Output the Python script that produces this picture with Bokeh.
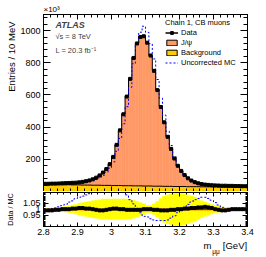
import numpy as np
from bokeh.plotting import figure
from bokeh.layouts import column
from bokeh.models import (ColumnDataSource, LinearAxis, FixedTicker, Range1d, Label, Title,
                          Legend, LegendItem, CustomJSTickFormatter)
from bokeh.transform import stack
from bokeh.embed import file_html
from bokeh.resources import INLINE

# ---------------- data ----------------
bin_low = [2.80, 2.81, 2.82, 2.83, 2.84, 2.85, 2.86, 2.87, 2.88, 2.89,
           2.90, 2.91, 2.92, 2.93, 2.94, 2.95, 2.96, 2.97, 2.98, 2.99,
           3.00, 3.01, 3.02, 3.03, 3.04, 3.05, 3.06, 3.07, 3.08, 3.09,
           3.10, 3.11, 3.12, 3.13, 3.14, 3.15, 3.16, 3.17, 3.18, 3.19,
           3.20, 3.21, 3.22, 3.23, 3.24, 3.25, 3.26, 3.27, 3.28, 3.29,
           3.30, 3.31, 3.32, 3.33, 3.34, 3.35, 3.36, 3.37, 3.38, 3.39]
bin_width = 0.01

# entries (x10^3) per 10 MeV
data = [48, 48, 49, 49, 50, 51, 52, 53, 54, 55,
        57, 60, 64, 69, 76, 86, 100, 118, 140, 170,
        215, 290, 380, 480, 590, 700, 830, 920, 960, 965,
        925, 845, 750, 630, 525, 430, 340, 265, 205, 160,
        128, 102, 82, 68, 58, 51, 46, 43, 41, 39,
        38, 37, 36, 36, 35, 35, 34, 34, 33, 33]
background = [44, 44, 43, 43, 43, 42, 42, 42, 41, 41,
              41, 40, 40, 40, 39, 39, 39, 38, 38, 38,
              37, 37, 37, 36, 36, 36, 35, 35, 35, 34,
              34, 34, 33, 33, 33, 32, 32, 32, 31, 31,
              31, 31, 30, 30, 30, 30, 29, 29, 29, 29,
              29, 28, 28, 28, 28, 28, 28, 27, 27, 27]
jpsi = [5, 5, 6, 6, 7, 9, 10, 11, 13, 14,
        15, 19, 24, 29, 37, 47, 62, 81, 103, 132,
        177, 252, 343, 444, 557, 668, 799, 890, 930, 931,
        891, 811, 721, 600, 497, 402, 311, 234, 175, 129,
        97, 71, 52, 37, 27, 20, 16, 13, 11, 10,
        9, 9, 8, 8, 7, 7, 6, 7, 6, 6]
uncorrected_mc = [48, 48, 49, 49, 49, 50, 50, 50, 50, 50,
                  52, 54, 57, 61, 67, 75, 86, 101, 120, 145,
                  184, 250, 330, 421, 527, 648, 794, 920, 990, 1027,
                  989, 918, 824, 696, 580, 475, 374, 286, 217, 165,
                  129, 100, 79, 64, 54, 47, 42, 39, 38, 36,
                  36, 36, 35, 36, 35, 35, 34, 34, 33, 33]
# ratio panel
ratio_data_mc = [0.99, 0.99, 0.99, 0.995, 0.995, 1.0, 1.0, 1.0, 1.005, 1.005,
                 1.01, 1.01, 1.005, 1.005, 1.0, 0.995, 0.99, 0.99, 0.995, 1.0,
                 1.005, 1.005, 1.0, 1.0, 0.995, 0.995, 0.995, 0.995, 0.995, 1.0,
                 1.0, 1.0, 0.995, 0.995, 0.99, 0.99, 0.99, 0.995, 0.995, 1.0,
                 1.0, 1.005, 1.005, 1.01, 1.01, 1.015, 1.015, 1.02, 1.015, 1.01,
                 1.0, 0.995, 0.99, 0.99, 0.995, 1.0, 1.0, 1.0, 1.0, 1.0]
ratio_uncorrected = [1.0, 1.0, 1.005, 1.01, 1.02, 1.03, 1.04, 1.06, 1.07, 1.09,
                     1.10, 1.11, 1.12, 1.13, 1.14, 1.15, 1.16, 1.17, 1.17, 1.17,
                     1.17, 1.16, 1.15, 1.14, 1.12, 1.08, 1.045, 1.0, 0.97, 0.94,
                     0.935, 0.92, 0.91, 0.905, 0.905, 0.905, 0.91, 0.925, 0.945, 0.97,
                     0.99, 1.015, 1.04, 1.06, 1.08, 1.09, 1.10, 1.10, 1.09, 1.075,
                     1.055, 1.035, 1.015, 1.0, 1.0, 0.995, 0.995, 1.0, 1.0, 1.0]
syst_band = [0.005, 0.006, 0.008, 0.01, 0.013, 0.017, 0.022, 0.028, 0.034, 0.04,
             0.048, 0.055, 0.06, 0.065, 0.07, 0.075, 0.08, 0.085, 0.085, 0.085,
             0.085, 0.085, 0.085, 0.085, 0.085, 0.08, 0.075, 0.065, 0.055, 0.045,
             0.03, 0.03, 0.045, 0.065, 0.09, 0.11, 0.12, 0.13, 0.14, 0.14,
             0.14, 0.13, 0.12, 0.11, 0.1, 0.085, 0.07, 0.06, 0.05, 0.04,
             0.03, 0.025, 0.02, 0.015, 0.012, 0.01, 0.01, 0.008, 0.008, 0.007]
ref_level = [1.0]

x_ticks = [2.8, 2.9, 3.0, 3.1, 3.2, 3.3, 3.4]
y_ticks = [200, 400, 600, 800, 1000]
r_ticks = [0.95, 1.0, 1.05]
# x-axis title pieces "m", subscript "μμ", "[GeV]" and where they sit along the axis
xtitle_main = ["m", "[GeV]"]
xtitle_main_pos = [3.2824, 3.3632]
xtitle_sub = ["μμ"]
xtitle_sub_pos = [3.3074]

# ---------------- styles ----------------
SALMON = "#FF9966"
GOLD = "#FFCC00"
YELLOW = "#FFFF00"
FONT = "Liberation Sans"

lo = np.array(bin_low)
hi = np.round(lo + bin_width, 3)
ctr = lo + bin_width / 2
edges = list(lo) + [hi[-1]]

src = ColumnDataSource(dict(left=lo, right=hi, center=ctr, data=data, bkg=background,
                            jpsi=jpsi, ratio=ratio_data_mc,
                            band_lo=1 - np.array(syst_band), band_hi=1 + np.array(syst_band)))
step_src = ColumnDataSource(dict(x=edges, bkg=background + [background[-1]],
                                 jpsi=jpsi + [jpsi[-1]],
                                 unc=uncorrected_mc + [uncorrected_mc[-1]],
                                 runc=ratio_uncorrected + [ratio_uncorrected[-1]]))

x_minor = list(np.round(np.arange(2.80, 3.4001, 0.02), 3))
y_minor = list(range(0, 1101, 40))
r_minor = list(np.round(np.arange(0.86, 1.1401, 0.01), 3))
fmt = CustomJSTickFormatter(code="return String(Math.round(tick*100)/100)")
blank_fmt = CustomJSTickFormatter(code="return ''")


def style_axis(ax, ticks, minor, show_labels, tick_len=6, minor_len=3):
    ax.ticker = FixedTicker(ticks=ticks, minor_ticks=minor)
    ax.major_tick_in = tick_len
    ax.major_tick_out = 0
    ax.minor_tick_in = minor_len
    ax.minor_tick_out = 0
    ax.axis_line_color = "black"
    ax.major_tick_line_color = "black"
    ax.minor_tick_line_color = "black"
    if show_labels:
        ax.formatter = fmt
        ax.major_label_text_font = FONT
        ax.major_label_text_font_size = "9px"
        ax.major_label_text_color = "black"
        ax.major_label_standoff = 3
    else:
        ax.formatter = blank_fmt
        ax.major_label_standoff = 0


def text_axis(names, positions, size, standoff):
    ax = LinearAxis(ticker=FixedTicker(ticks=positions, minor_ticks=[]),
                    formatter=CustomJSTickFormatter(args=dict(names=names),
                                                    code="return names[index]"))
    ax.axis_line_color = None
    ax.major_tick_line_color = None
    ax.minor_tick_line_color = None
    ax.major_tick_in = 0
    ax.major_tick_out = 0
    ax.minor_tick_in = 0
    ax.minor_tick_out = 0
    ax.major_label_text_font = FONT
    ax.major_label_text_font_size = size
    ax.major_label_text_color = "black"
    ax.major_label_standoff = standoff
    return ax


# ---------------- upper panel ----------------
p1 = figure(width=266, height=191, x_range=Range1d(2.8, 3.4), y_range=Range1d(0, 1100),
            output_backend="svg", toolbar_location=None,
            min_border_left=43, min_border_right=19, min_border_top=14, min_border_bottom=0)
p1.grid.visible = False
p1.outline_line_color = "black"
p1.outline_line_alpha = 1
p1.background_fill_color = "white"
p1.border_fill_color = "white"

p1.quad(left="left", right="right", bottom=0, top="bkg", source=src,
        fill_color=GOLD, line_color=GOLD, line_width=0.5)
p1.quad(left="left", right="right", bottom="bkg", top=stack("bkg", "jpsi"), source=src,
        fill_color=SALMON, line_color=SALMON, line_width=0.5)
p1.step(x="x", y="bkg", mode="after", source=step_src, line_color="black", line_width=1)
p1.step(x="x", y=stack("bkg", "jpsi"), mode="after", source=step_src,
        line_color="black", line_width=1)
unc_r = p1.step(x="x", y="unc", mode="after", source=step_src, line_color="blue",
                line_dash="2 2", line_width=1)
seg_r = p1.segment(x0="left", x1="right", y0="data", y1="data", source=src,
                   line_color="black", line_width=1.5)
pts_r = p1.scatter(x="center", y="data", source=src, marker="square", size=3,
                   fill_color="black", line_color="black")

# hidden renderers, used only for the legend symbols
cross_leg = p1.scatter(x="center", y="data", source=src, marker="cross", size=8,
                       line_color="black", line_width=1, visible=False)
jpsi_leg = p1.quad(left="left", right="right", bottom="bkg", top=stack("bkg", "jpsi"),
                   source=src, fill_color=SALMON, line_color="black", line_width=1,
                   visible=False)
bkg_leg = p1.quad(left="left", right="right", bottom=0, top="bkg", source=src,
                  fill_color=GOLD, line_color="black", line_width=1, visible=False)

legend = Legend(items=[LegendItem(label="Data", renderers=[seg_r, cross_leg, pts_r]),
                       LegendItem(label="J/ψ", renderers=[jpsi_leg]),
                       LegendItem(label="Background", renderers=[bkg_leg]),
                       LegendItem(label="Uncorrected MC", renderers=[unc_r])],
                title="Chain 1, CB muons", location=(122, 124),
                padding=0, margin=0, spacing=1, label_standoff=3,
                glyph_width=13, glyph_height=7, label_height=9,
                label_text_font=FONT, label_text_font_size="7.5px",
                label_text_color="black",
                title_text_font=FONT, title_text_font_size="7.5px",
                title_text_font_style="normal", title_text_color="black", title_standoff=1,
                border_line_color=None, background_fill_alpha=0,
                inactive_fill_alpha=0)
p1.add_layout(legend)

style_axis(p1.xaxis[0], x_ticks, x_minor, False, 5, 3)
style_axis(p1.yaxis[0], y_ticks, y_minor, True, 7, 4)
ax_top = LinearAxis()
style_axis(ax_top, x_ticks, x_minor, False, 5, 3)
p1.add_layout(ax_top, "above")
ax_right = LinearAxis()
style_axis(ax_right, y_ticks, y_minor, False, 7, 4)
p1.add_layout(ax_right, "right")

p1.add_layout(Title(text="×10³", align="left", text_font=FONT, text_font_size="8px",
                    text_font_style="normal", text_color="black", standoff=1), "above")
p1.add_layout(Title(text="Entries / 10 MeV", align="right", offset=7, standoff=1,
                    text_font=FONT, text_font_size="9.5px", text_font_style="normal",
                    text_color="black"), "left")

p1.add_layout(Label(x=2.835, y=1037, text="ATLAS", text_font=FONT, text_font_size="9px",
                    text_font_style="bold italic", text_baseline="middle"))
p1.add_layout(Label(x=2.835, y=963, text="√s = 8 TeV", text_font=FONT,
                    text_font_size="7.5px", text_baseline="middle"))
p1.add_layout(Label(x=2.835, y=876, text="L = 20.3 fb⁻¹", text_font=FONT,
                    text_font_size="7.5px", text_baseline="middle"))

# ---------------- ratio panel ----------------
p2 = figure(width=266, height=66, x_range=p1.x_range, y_range=Range1d(0.855, 1.14),
            output_backend="svg", toolbar_location=None,
            min_border_left=43, min_border_right=19, min_border_top=1, min_border_bottom=31)
p2.grid.visible = False
p2.outline_line_color = "black"
p2.outline_line_alpha = 1
p2.background_fill_color = "white"
p2.border_fill_color = "white"

p2.quad(left="left", right="right", bottom="band_lo", top="band_hi", source=src,
        fill_color=YELLOW, line_color=YELLOW, line_width=0.5)
p2.hspan(y=ref_level, line_color="red", line_width=1.5)
p2.step(x="x", y="runc", mode="after", source=step_src, line_color="blue",
        line_dash="2 2", line_width=1)
p2.segment(x0="left", x1="right", y0="ratio", y1="ratio", source=src,
           line_color="black", line_width=1.2)
p2.scatter(x="center", y="ratio", source=src, marker="square", size=3,
           fill_color="black", line_color="black")

style_axis(p2.xaxis[0], x_ticks, x_minor, True, 4, 2)
p2.xaxis[0].major_label_standoff = 2
style_axis(p2.yaxis[0], r_ticks, r_minor, True, 5, 2)
p2.yaxis[0].axis_label = "Data / MC"
p2.yaxis[0].axis_label_standoff = 5
p2.yaxis[0].axis_label_text_font = FONT
p2.yaxis[0].axis_label_text_font_size = "7.2px"
p2.yaxis[0].axis_label_text_font_style = "normal"
p2.yaxis[0].axis_label_text_color = "black"
ax_top2 = LinearAxis()
style_axis(ax_top2, x_ticks, x_minor, False, 4, 2)
p2.add_layout(ax_top2, "above")
ax_right2 = LinearAxis()
style_axis(ax_right2, r_ticks, r_minor, False, 5, 2)
p2.add_layout(ax_right2, "right")

# x-axis title  m_μμ [GeV]  (as tick-label texts of two extra axes)
p2.add_layout(text_axis(xtitle_main, xtitle_main_pos, "9.5px", 2), "below")
p2.add_layout(text_axis(xtitle_sub, xtitle_sub_pos, "6.5px", -6), "below")

layout = column(p1, p2, spacing=0)
open("out.html", "w").write(file_html(layout, INLINE))
